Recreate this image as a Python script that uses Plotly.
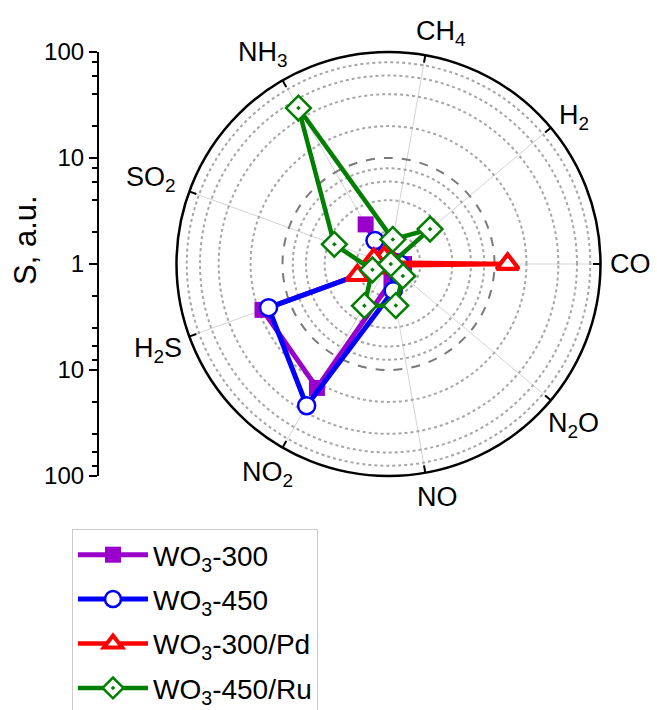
import numpy as np
import plotly.graph_objects as go

# ---- data ----
categories = ["CO", "H<sub>2</sub>", "CH<sub>4</sub>", "NH<sub>3</sub>", "SO<sub>2</sub>",
              "H<sub>2</sub>S", "NO<sub>2</sub>", "NO", "N<sub>2</sub>O"]
wo3_300 = [1.4, 1.1, 1.05, 2.7, 1.0, 18.4, 22.4, 1.45, 1.1]
wo3_450 = [1.28, 1.1, 1.05, 1.8, 1.0, 16.0, 35.0, 1.8, 1.1]
wo3_300_pd = [13.3, 1.05, 1.15, 1.2, 1.4, 2.05, 1.1, 1.05, 1.05]
wo3_450_ru = [1.05, 3.25, 1.72, 50.0, 3.5, 1.45, 2.85, 2.5, 1.5]
series_names = ["WO<sub>3</sub>-300", "WO<sub>3</sub>-450", "WO<sub>3</sub>-300/Pd", "WO<sub>3</sub>-450/Ru"]

major_grid = [10]
minor_grid = [2, 4, 6, 8, 20, 40, 60, 80]
axis_ticks = [100, 10, 1, 10, 100]
r_range = [1, 100]

FONT = "Liberation Sans, Arial, sans-serif"
W, H = 657, 710
cx, cy, rad = 388.5, 264.0, 212.0
label_r = 242.0
# small per-label pixel nudges (dx, dy-down) for the category labels
label_nudge = [(0, 0), (0, 9), (10, 7), (-5, 0), (-10, -2), (-3, 3), (0, 0), (7, -5), (0, 5)]
dom_x = [(cx - rad) / W, (cx + rad) / W]
dom_y = [1 - (cy + rad) / H, 1 - (cy - rad) / H]

fig = go.Figure()

# bottom polar: spokes, ticks and dashed major circle
fig.add_trace(go.Scatterpolar(r=major_grid * len(categories), theta=categories, mode="none",
                              subplot="polar", showlegend=False, hoverinfo="skip"))

styles = [
    dict(color="#9900CC", symbol="square", size=16, fill="#9900CC", lw=0, width=5),
    dict(color="#0000FF", symbol="circle", size=17, fill="white", lw=2.5, width=5),
    dict(color="#FF0000", symbol="triangle-up", size=19, fill="white", lw=4, width=4.5),
    dict(color="#007F00", symbol="diamond-dot", size=19, fill="white", lw=2.5, width=4.5),
]
data = [wo3_300, wo3_450, wo3_300_pd, wo3_450_ru]
for name, vals, st in zip(series_names, data, styles):
    fig.add_trace(go.Scatterpolar(
        r=vals + vals[:1], theta=categories + categories[:1], mode="lines+markers",
        name=name, subplot="polar2", legendgroup=name,
        line=dict(color=st["color"], width=st["width"]),
        marker=dict(symbol=st["symbol"], size=st["size"], color=st["fill"],
                    line=dict(color=st["color"], width=st["lw"])),
    ))

# dummy cartesian trace for the left axis
fig.add_trace(go.Scatter(x=[0], y=[0], mode="none", showlegend=False, hoverinfo="skip",
                         xaxis="x", yaxis="y"))

# category labels around the circle (same angular spacing as the category axis)
annotations = []
n = len(categories)
for i, cat in enumerate(categories):
    ang = np.deg2rad(360.0 * i / n)
    px = cx + label_r * np.cos(ang) + label_nudge[i][0]
    py = cy - label_r * np.sin(ang) + label_nudge[i][1]
    annotations.append(dict(text=cat, x=px / W, y=1 - py / H, xref="paper", yref="paper",
                            xanchor="center", yanchor="middle", showarrow=False,
                            font=dict(size=27, family=FONT)))
annotations.append(dict(text="S, a.u.", textangle=-90, x=25 / W, y=1 - 240 / H,
                        xref="paper", yref="paper", xanchor="center", yanchor="middle",
                        showarrow=False, font=dict(size=31, family=FONT)))

lr = [np.log10(r_range[0]), np.log10(r_range[1])]
fig.update_layout(
    width=W, height=H, margin=dict(l=0, r=0, t=0, b=0, autoexpand=False),
    paper_bgcolor="white", plot_bgcolor="rgba(0,0,0,0)",
    font=dict(family=FONT, color="black", size=20),
    polar=dict(
        domain=dict(x=dom_x, y=dom_y), bgcolor="white",
        angularaxis=dict(type="category", categoryarray=categories, rotation=0,
                         direction="counterclockwise", showgrid=True, gridcolor="#d4d4d4",
                         gridwidth=1, showline=False, showticklabels=False,
                         ticks="inside", ticklen=7, tickwidth=2, tickcolor="black"),
        radialaxis=dict(type="log", range=lr, tickvals=major_grid, showticklabels=False,
                        showline=False, ticks="", showgrid=True, griddash="dash",
                        gridcolor="#7a7a7a", gridwidth=2),
    ),
    polar2=dict(
        domain=dict(x=dom_x, y=dom_y), bgcolor="rgba(0,0,0,0)",
        angularaxis=dict(type="category", categoryarray=categories, rotation=0,
                         direction="counterclockwise", showgrid=False, showline=True,
                         linecolor="black", linewidth=2.5, ticks="", showticklabels=False),
        radialaxis=dict(type="log", range=lr, tickvals=minor_grid, showticklabels=False,
                        showline=False, ticks="", showgrid=True, griddash="dot",
                        gridcolor="#a6a6a6", gridwidth=1.5),
    ),
    xaxis=dict(domain=[0.149, 0.15], visible=False, range=[0, 1], automargin=False),
    yaxis=dict(anchor="free", position=0.149, domain=dom_y, range=[-2, 2], automargin=False,
               tickvals=[2, 1, 0, -1, -2], ticktext=[str(v) for v in axis_ticks],
               ticks="outside", ticklen=8, tickwidth=2, tickcolor="black",
               showline=True, linewidth=2, linecolor="black", showgrid=False, zeroline=False,
               tickfont=dict(size=24, family=FONT),
               minor=dict(tickvals=list(np.log10(minor_grid)) + list(-np.log10(minor_grid)),
                          ticks="outside", ticklen=5, tickwidth=2, tickcolor="black", showgrid=False)),
    annotations=annotations,
    legend=dict(x=72 / W, y=1 - 529 / H, xanchor="left", yanchor="top",
                bordercolor="#cccccc", borderwidth=1, bgcolor="white",
                font=dict(size=28, family=FONT), itemwidth=70, tracegroupgap=5,
                traceorder="grouped"),
    showlegend=True,
)

fig.write_html("out.html")
